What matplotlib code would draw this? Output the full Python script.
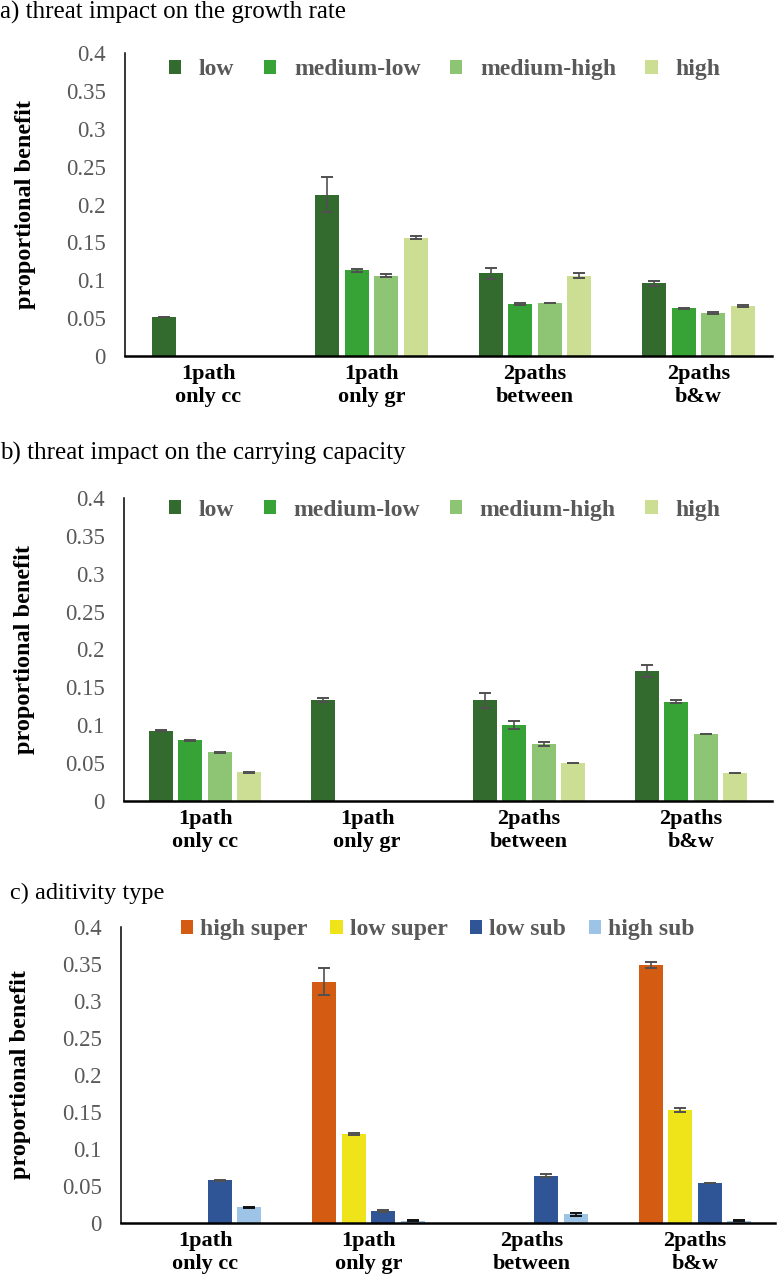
import numpy as np
import matplotlib
matplotlib.use("Agg")
import matplotlib.pyplot as plt

plt.rcParams['font.family'] = ['Liberation Serif', 'DejaVu Serif']

groups = ["1path\nonly cc", "1path\nonly gr", "2paths\nbetween", "2paths\nb&w"]
yticks = [0, 0.05, 0.1, 0.15, 0.2, 0.25, 0.3, 0.35, 0.4]
ytick_labels = ["0", "0.05", "0.1", "0.15", "0.2", "0.25", "0.3", "0.35", "0.4"]
nan = np.nan

# a) threat impact on the growth rate
threat_names = ["low", "medium-low", "medium-high", "high"]
gr_low = [0.051, 0.213, 0.109, 0.096]
gr_low_err = [0.0, 0.023, 0.007, 0.003]
gr_medlow = [nan, 0.113, 0.069, 0.063]
gr_medlow_err = [nan, 0.002, 0.001, 0.001]
gr_medhigh = [nan, 0.106, 0.070, 0.057]
gr_medhigh_err = [nan, 0.002, 0.0005, 0.001]
gr_high = [nan, 0.156, 0.106, 0.066]
gr_high_err = [nan, 0.002, 0.003, 0.001]

# b) threat impact on the carrying capacity
cc_low = [0.093, 0.133, 0.133, 0.172]
cc_low_err = [0.001, 0.003, 0.010, 0.008]
cc_medlow = [0.080, nan, 0.100, 0.131]
cc_medlow_err = [0.001, nan, 0.005, 0.002]
cc_medhigh = [0.064, nan, 0.075, 0.0885]
cc_medhigh_err = [0.001, nan, 0.003, 0.0005]
cc_high = [0.038, nan, 0.050, 0.037]
cc_high_err = [0.0005, nan, 0.0005, 0.0005]

# c) aditivity type
add_names = ["high super", "low super", "low sub", "high sub"]
hi_super = [nan, 0.326, nan, 0.348]
hi_super_err = [nan, 0.018, nan, 0.004]
lo_super = [nan, 0.120, nan, 0.153]
lo_super_err = [nan, 0.001, nan, 0.003]
lo_sub = [0.0575, 0.016, 0.064, 0.054]
lo_sub_err = [0.0005, 0.001, 0.002, 0.0005]
hi_sub = [0.021, 0.003, 0.012, 0.003]
hi_sub_err = [0.0005, 0.001, 0.002, 0.001]

green_colors = ["#336a2d", "#37a337", "#8ec574", "#ccde94"]
add_colors = ["#d45b12", "#efe31a", "#2f5597", "#9dc3e6"]
# the tiny high-sub error bars look black in the original
add_ecolors = ["#505050", "#505050", "#505050", "#111111"]

BAR_STEP = 0.181
BAR_W = 0.147


def draw_panel(ax, series, errs, names, colors, ecolors, xlim, legend_xy, textpad, colspace):
    x = np.arange(len(groups))
    for i, (vals, err, name, col, ecol) in enumerate(zip(series, errs, names, colors, ecolors)):
        pos = x + (i - 1.5) * BAR_STEP
        ax.bar(pos, vals, width=BAR_W, color=col, label=name)
        ax.errorbar(pos, vals, yerr=err, fmt="none", ecolor=ecol,
                    elinewidth=1.2, capsize=4, capthick=1.4)
    ax.set_ylim(0, 0.4)
    ax.set_xlim(*xlim)
    ax.set_yticks(yticks)
    ax.set_yticklabels(ytick_labels)
    ax.set_xticks(x)
    ax.set_xticklabels(groups, fontsize=16, fontweight="bold")
    ax.tick_params(axis="y", length=0, pad=14, labelsize=16.5, labelcolor="#595959")
    ax.tick_params(axis="x", length=0, pad=6)
    ax.spines["top"].set_visible(False)
    ax.spines["right"].set_visible(False)
    ax.spines["left"].set_linewidth(1.1)
    ax.spines["bottom"].set_linewidth(1.8)
    ax.set_ylabel("proportional benefit", fontsize=17.5, fontweight="bold")
    ax.yaxis.set_label_coords(-0.137, 0.5)
    leg = ax.legend(ncol=4, loc="center left", bbox_to_anchor=legend_xy,
                    frameon=False, borderpad=0, borderaxespad=0,
                    handlelength=0.52, handleheight=0.52,
                    handletextpad=textpad, columnspacing=colspace,
                    prop={"size": 17, "weight": "bold"})
    for t in leg.get_texts():
        t.set_color("#595959")


fig = plt.figure(figsize=(7.83, 12.83), dpi=100)

grey = ["#505050"] * 4

ax_a = fig.add_axes([0.1596, 0.7225, 0.8263, 0.2362])
draw_panel(ax_a, [gr_low, gr_medlow, gr_medhigh, gr_high],
           [gr_low_err, gr_medlow_err, gr_medhigh_err, gr_high_err],
           threat_names, green_colors, grey, (-0.51, 3.45), (0.068, 0.944), 0.75, 1.25)

ax_b = fig.add_axes([0.1584, 0.3757, 0.8276, 0.2362])
draw_panel(ax_b, [cc_low, cc_medlow, cc_medhigh, cc_high],
           [cc_low_err, cc_medlow_err, cc_medhigh_err, cc_high_err],
           threat_names, green_colors, grey, (-0.5, 3.5), (0.069, 0.96), 0.75, 1.25)

ax_c = fig.add_axes([0.1545, 0.0468, 0.8352, 0.2307])
draw_panel(ax_c, [hi_super, lo_super, lo_sub, hi_sub],
           [hi_super_err, lo_super_err, lo_sub_err, hi_sub_err],
           add_names, add_colors, add_ecolors, (-0.515, 3.49), (0.092, 0.99), 0.3, 0.95)

fig.text(0.0, 1 - 12 / 1283, "a) threat impact on the growth rate", fontsize=18, va="center", ha="left")
fig.text(0.0, 1 - 453 / 1283, "b) threat impact on the carrying capacity", fontsize=18, va="center", ha="left")
fig.text(10 / 783, 1 - 893 / 1283, "c) aditivity type", fontsize=17.5, va="center", ha="left")

fig.savefig("out.png", dpi=100, facecolor="white")
